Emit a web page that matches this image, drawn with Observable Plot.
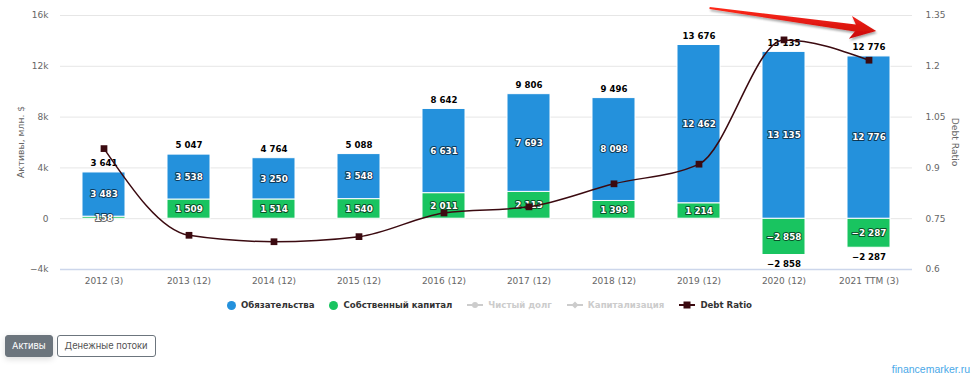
<!DOCTYPE html>
<html>
<head>
<meta charset="utf-8">
<script src="https://cdn.jsdelivr.net/npm/d3@7"></script>
<script src="https://cdn.jsdelivr.net/npm/@observablehq/plot@0.6"></script>
<style>
  html, body { margin: 0; padding: 0; background: #fff; }
  #wrap { position: relative; width: 979px; height: 388px; font-family: "DejaVu Sans", sans-serif; }
  #legend { position: absolute; left: 0; top: 297px; width: 979px; height: 16px; display: flex; justify-content: center; align-items: center; gap: 15px; font-size: 8.6px; font-weight: bold; color: #333; }
  .li { display: flex; align-items: center; gap: 5px; white-space: nowrap; }
  .li.off { color: #cccccc; }
  .dotsym { width: 9px; height: 9px; border-radius: 50%; display: inline-block; }
  #buttons { position: absolute; left: 5px; top: 335px; display: flex; gap: 4px; font-family: "Inter", "Open Sans", sans-serif; font-size: 9.3px; }
  .btn { height: 20px; line-height: 20px; padding: 0 6px; border-radius: 3px; box-sizing: content-box; }
  .btn.on { background: #6c757d; color: #fff; border: 1px solid #6c757d; box-shadow: 0 2px 6px rgba(0,0,0,0.15); }
  .btn.offb { background: #fff; color: #555; border: 1px solid #6c757d; padding: 0 7px; }
  #wm { position: absolute; right: 9px; top: 363px; font-family: "Liberation Sans", Arial, sans-serif; font-size: 10.5px; color: #4aa8e8; }
</style>
</head>
<body>
<div id="wrap">
  <div id="chart"></div>
  <div id="legend"></div>
  <div id="buttons"><div class="btn on">Активы</div><div class="btn offb">Денежные потоки</div></div>
  <div id="wm">financemarker.ru</div>
</div>
<script>
// ---- data ----
const categories = ["2012 (3)", "2013 (12)", "2014 (12)", "2015 (12)", "2016 (12)", "2017 (12)", "2018 (12)", "2019 (12)", "2020 (12)", "2021 TTM (3)"];
const liabilities = [3483, 3538, 3250, 3548, 6631, 7693, 8098, 12462, 13135, 12776];
const equity = [158, 1509, 1514, 1540, 2011, 2113, 1398, 1214, -2858, -2287];
const debtRatio = [0.957, 0.701, 0.682, 0.697, 0.767, 0.785, 0.853, 0.911, 1.278, 1.218];
const seriesNames = ["Обязательства", "Собственный капитал"];
const seriesColors = ["#2491dc", "#19c460"];
const leftTicks = [-4000, 0, 4000, 8000, 12000, 16000];
const ratioTicks = [0.6, 0.75, 0.9, 1.05, 1.2, 1.35];
const ratioTickLabels = ["0.6", "0.75", "0.9", "1.05", "1.2", "1.35"];
const arrowAnno = { fromCat: "2019 (12)", fromOffset: 0.13, fromValue: 16550, toCat: "2021 TTM (3)", toOffset: 0.09, toValue: 14750 };

// ---- helpers ----
const yDomain = [-4000, 16000];
const rDomain = [0.6, 1.35];
const toY = r => yDomain[0] + (r - rDomain[0]) / (rDomain[1] - rDomain[0]) * (yDomain[1] - yDomain[0]);
const fmt = v => d3.format(",")(v).replace(/,/g, " ");
const leftFmt = d => d === 0 ? "0" : (d < 0 ? "−" : "") + Math.abs(d / 1000) + "k";

const rows = [];
categories.forEach((c, i) => {
  rows.push({ cat: c, series: seriesNames[1], value: equity[i] });
  rows.push({ cat: c, series: seriesNames[0], value: liabilities[i] });
});
const posTotals = categories.map((c, i) => ({ cat: c, value: liabilities[i] + Math.max(0, equity[i]) }));
const negTotals = categories.map((c, i) => ({ cat: c, value: Math.min(0, equity[i]) })).filter(d => d.value < 0);
const ratioData = categories.map((c, i) => ({ cat: c, r: debtRatio[i], yv: toY(debtRatio[i]) }));
const order = [seriesNames[1], seriesNames[0]];
const lineColor = "#3b0a10";

const plot = Plot.plot({
  width: 979,
  height: 292,
  marginTop: 15,
  marginBottom: 23,
  marginLeft: 60,
  marginRight: 67,
  style: { fontFamily: "DejaVu Sans, sans-serif", fontSize: "9px", color: "#666", background: "#fff" },
  x: { domain: categories, padding: 0, label: null },
  y: { domain: yDomain, label: null },
  color: { domain: seriesNames, range: seriesColors },
  marks: [
    Plot.gridY([0, 4000, 8000, 12000, 16000], { stroke: "#e6e6e6", strokeOpacity: 1 }),
    Plot.ruleY([-4000], { stroke: "#ccd6eb", strokeWidth: 1.5 }),
    Plot.axisY({ ticks: leftTicks, tickSize: 0, tickPadding: 12, tickFormat: leftFmt, label: null, fill: "#666" }),
    Plot.axisY(ratioTicks.map(toY), { anchor: "right", tickSize: 0, tickPadding: 13, textAnchor: "start", tickFormat: (d, i) => ratioTickLabels[i], label: null, fill: "#666" }),
    Plot.axisX({ tickSize: 0, tickPadding: 8, label: null, fill: "#666" }),
    Plot.barY(rows, Plot.stackY({ x: "cat", y: "value", fill: "series", order, insetLeft: 21, insetRight: 21, stroke: "#fff", strokeWidth: 1 })),
    Plot.text(rows, Plot.stackY({ x: "cat", y: "value", z: "series", order, text: d => fmt(d.value), fill: "#fff", stroke: "#000", strokeOpacity: 0.6, strokeWidth: 2, fontWeight: "bold", fontSize: 8.8 })),
    Plot.text(posTotals, { x: "cat", y: "value", text: d => fmt(d.value), dy: -9, fill: "#000", fontWeight: "bold", fontSize: 8.6 }),
    Plot.text(negTotals, { x: "cat", y: "value", text: d => fmt(d.value), dy: 9, fill: "#000", fontWeight: "bold", fontSize: 8.6 }),
    Plot.line(ratioData, { x: "cat", y: "yv", curve: "monotone-x", stroke: lineColor, strokeWidth: 1.5 }),
    Plot.dot(ratioData, { x: "cat", y: "yv", symbol: "square", r: 3.8, fill: lineColor, stroke: "none" })
  ]
});
document.getElementById("chart").appendChild(plot);

// axis titles
const svg = d3.select(plot);
const ys = plot.scale("y");
svg.append("text").attr("transform", `translate(24,${(15 + 269) / 2}) rotate(-90)`).attr("text-anchor", "middle")
  .attr("fill", "#666").attr("font-size", 9.2).text("Активы, млн. $");
svg.append("text").attr("transform", `translate(952,${(15 + 269) / 2}) rotate(90)`).attr("text-anchor", "middle")
  .attr("fill", "#666").attr("font-size", 9.2).text("Debt Ratio");

// red arrow annotation
const xs = plot.scale("x");
const step = xs.step !== undefined ? xs.step : xs.bandwidth;
const cx = (cat, off) => xs.apply(cat) + xs.bandwidth / 2 + off * step;
const x0 = cx(arrowAnno.fromCat, arrowAnno.fromOffset), y0 = ys.apply(arrowAnno.fromValue);
const x1 = cx(arrowAnno.toCat, arrowAnno.toOffset), y1 = ys.apply(arrowAnno.toValue);
const dx = x1 - x0, dy = y1 - y0, L = Math.hypot(dx, dy);
const ux = dx / L, uy = dy / L, nx = -uy, ny = ux;
const headLen = 21, headW = 11.5, w0 = 0.9, w1 = 3.6;
const bx = x1 - ux * headLen, by = y1 - uy * headLen;
const pts = [
  [x0 + nx * w0, y0 + ny * w0],
  [bx + nx * w1, by + ny * w1],
  [bx + nx * headW - ux * 5, by + ny * headW - uy * 5],
  [x1, y1],
  [bx - nx * headW - ux * 5, by - ny * headW - uy * 5],
  [bx - nx * w1, by - ny * w1],
  [x0 - nx * w0, y0 - ny * w0]
];
const defs = svg.append("defs");
const f = defs.append("filter").attr("id", "sh").attr("x", "-20%").attr("y", "-50%").attr("width", "140%").attr("height", "200%");
f.append("feDropShadow").attr("dx", 1).attr("dy", 2).attr("stdDeviation", 1.2).attr("flood-color", "#000").attr("flood-opacity", 0.35);
const g = defs.append("linearGradient").attr("id", "rg").attr("x1", 0).attr("y1", 0).attr("x2", 0).attr("y2", 1);
g.append("stop").attr("offset", "0%").attr("stop-color", "#ff2a1a");
g.append("stop").attr("offset", "100%").attr("stop-color", "#c80a0a");
svg.append("path").attr("d", "M" + pts.map(p => p.join(",")).join("L") + "Z")
  .attr("fill", "url(#rg)").attr("filter", "url(#sh)");

// legend
const legend = document.getElementById("legend");
const items = [
  { name: seriesNames[0], type: "dot", color: seriesColors[0] },
  { name: seriesNames[1], type: "dot", color: seriesColors[1] },
  { name: "Чистый долг", type: "lineCircle", color: "#cccccc", off: true },
  { name: "Капитализация", type: "lineDiamond", color: "#cccccc", off: true },
  { name: "Debt Ratio", type: "lineSquare", color: lineColor }
];
items.forEach(it => {
  const el = document.createElement("div");
  el.className = "li" + (it.off ? " off" : "");
  let sym;
  if (it.type === "dot") {
    sym = `<span class="dotsym" style="background:${it.color}"></span>`;
  } else {
    let m = "";
    if (it.type === "lineCircle") m = `<circle cx="8" cy="5" r="3" fill="${it.color}"/>`;
    if (it.type === "lineDiamond") m = `<path d="M8,1.5L11.5,5L8,8.5L4.5,5Z" fill="${it.color}"/>`;
    if (it.type === "lineSquare") m = `<rect x="4.5" y="1.5" width="7" height="7" fill="${it.color}"/>`;
    sym = `<svg width="16" height="10"><line x1="0" x2="16" y1="5" y2="5" stroke="${it.color}" stroke-width="2"/>${m}</svg>`;
  }
  el.innerHTML = sym + `<span>${it.name}</span>`;
  legend.appendChild(el);
});
</script>
</body>
</html>
